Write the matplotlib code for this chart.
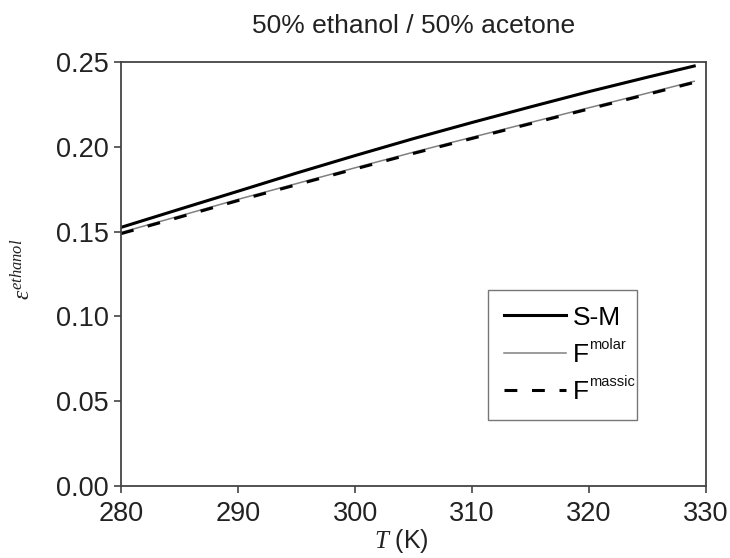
import matplotlib
matplotlib.use("Agg")
import matplotlib.pyplot as plt

plt.rcParams['font.family'] = ['Liberation Sans', 'DejaVu Sans']
plt.rcParams['mathtext.fontset'] = 'custom'
plt.rcParams['mathtext.rm'] = 'Liberation Sans'
plt.rcParams['mathtext.it'] = 'Liberation Serif:italic'
plt.rcParams['mathtext.bf'] = 'Liberation Sans:bold'

# Temperature grid (K) and ethanol fraction curves
temperature = [280, 285, 290, 295, 300, 305, 310, 315, 320, 325, 329]
eps_sm = [0.1525, 0.1632, 0.1738, 0.1845, 0.1948, 0.2048, 0.2143, 0.2235, 0.2325, 0.2410, 0.2476]
eps_molar = [0.1495, 0.1592, 0.1690, 0.1783, 0.1876, 0.1968, 0.2056, 0.2143, 0.2230, 0.2316, 0.2386]
eps_massic = [0.1488, 0.1585, 0.1683, 0.1776, 0.1869, 0.1961, 0.2049, 0.2136, 0.2223, 0.2309, 0.2379]

series_names = ['S-M', 'F', 'F']
series_sup = ['', 'molar', 'massic']

x_ticks = [280, 290, 300, 310, 320, 330]
y_ticks = [0.00, 0.05, 0.10, 0.15, 0.20, 0.25]

fig = plt.figure(figsize=(7.30, 5.58), dpi=100)
ax = fig.add_axes([0.166, 0.129, 0.801, 0.760])

ax.plot(temperature, eps_sm, color='black', lw=2.2, label=series_names[0])
ax.plot(temperature, eps_molar, color='#808080', lw=1.1, label=series_names[1])
ax.plot(temperature, eps_massic, color='black', lw=2.2, dashes=(4.2, 4.8),
        label=series_names[2])

ax.set_xlim(280, 330)
ax.set_ylim(0.0, 0.25)
ax.set_xticks(x_ticks)
ax.set_yticks(y_ticks)
ax.set_xticklabels([str(v) for v in x_ticks])
ax.set_yticklabels([f'{v:.2f}' for v in y_ticks])

for s in ax.spines.values():
    s.set_color('#444444')
    s.set_linewidth(1.3)
ax.tick_params(direction='out', length=5, width=1.2, color='#444444',
               labelsize=19.5, labelcolor='#222222')
ax.tick_params(axis='x', pad=6)
ax.tick_params(axis='y', pad=4)

ax.set_title('50% ethanol / 50% acetone', fontsize=19, color='#222222', pad=21)

ax.set_xlabel(r'$T$ (K)', fontsize=18, color='#222222')
ax.xaxis.set_label_coords(0.48, -0.097)

ax.set_ylabel(r'$\varepsilon^{ethanol}$', fontsize=17, color='#222222')
ax.yaxis.set_label_coords(-0.168, 0.512)
ax.yaxis.label.set_verticalalignment('center')

leg = ax.legend(loc='lower left', bbox_to_anchor=(0.627, 0.156), fontsize=19,
                frameon=True, fancybox=False, handlelength=2.35, handletextpad=0.27,
                labelspacing=0.5, borderpad=0.6, borderaxespad=0.0)
leg.get_frame().set_edgecolor('#555555')
leg.get_frame().set_linewidth(1.0)

# small superscripts attached to the legend labels
for txt, sup in zip(leg.get_texts(), series_sup):
    if sup:
        ax.annotate(sup, xy=(1, 1), xycoords=txt, xytext=(0.5, 3.5),
                    textcoords='offset points', ha='left', va='top',
                    fontsize=10.5, color='#111111', zorder=10,
                    annotation_clip=False)

fig.savefig('out.png', dpi=100)
